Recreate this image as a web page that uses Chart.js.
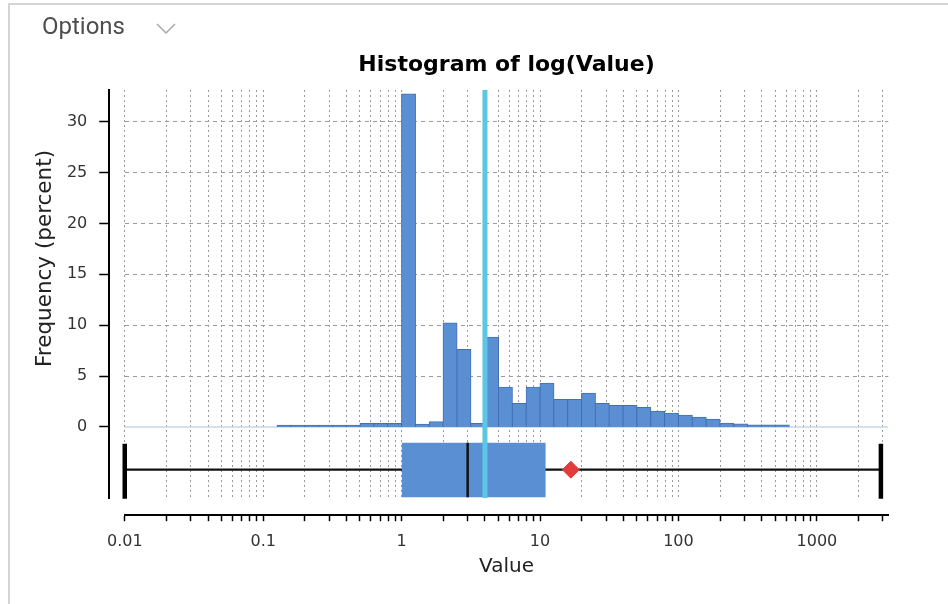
<!DOCTYPE html>
<html>
<head>
<meta charset="utf-8">
<title>Histogram of log(Value)</title>
<script src="https://cdn.jsdelivr.net/npm/chart.js@4.4.1/dist/chart.umd.min.js"></script>
<style>
    body { margin: 0; background: #fff; overflow: hidden; }
    .painel { position: absolute; left: 8px; top: 3px; width: 960px; height: 640px; border: 2px solid #d4d4d4; box-sizing: border-box; }
    .opcoes { position: absolute; left: 42px; top: 12px; font: 24px Roboto, sans-serif; color: #4e4e4e; line-height: 28px; }
    .seta { position: absolute; left: 156px; top: 22px; }
    canvas { position: absolute; left: 0; top: 0; }
</style>
</head>
<body>
<div class="painel"></div>
<canvas id="graficoHistograma" width="948" height="604"></canvas>
<div class="opcoes">Options</div>
<svg class="seta" width="20" height="14"><polyline points="1,2 10,11 19,2" fill="none" stroke="#a8a8a8" stroke-width="1.5"/></svg>

<script>
// classes do histograma: limite inferior em log10, largura 0.1
const BIN_WIDTH = 0.1;
const binLog = [-0.9, -0.8, -0.7, -0.6, -0.5, -0.4, -0.3, -0.2, -0.1,
    0.0, 0.1, 0.2, 0.3, 0.4, 0.5, 0.6, 0.7, 0.8, 0.9,
    1.0, 1.1, 1.2, 1.3, 1.4, 1.5, 1.6, 1.7, 1.8, 1.9,
    2.0, 2.1, 2.2, 2.3, 2.4, 2.5, 2.6, 2.7];
const binPercent = [0.16, 0.16, 0.16, 0.16, 0.16, 0.16, 0.33, 0.33, 0.33,
    32.7, 0.26, 0.52, 10.2, 7.6, 0.33, 8.8, 3.9, 2.3, 3.9,
    4.3, 2.7, 2.7, 3.3, 2.3, 2.1, 2.1, 1.9, 1.55, 1.35,
    1.15, 0.95, 0.75, 0.36, 0.3, 0.2, 0.2, 0.2];

// resumo do boxplot
const whiskerRange = [0.01, 2900];
const quartiles = [1, 3, 11];
const meanValue = 16.7;
const referenceValue = 4;

// eixos
const xDecades = [0.01, 0.1, 1, 10, 100, 1000];
const xTickLabels = ['0.01', '0.1', '1', '10', '100', '1000'];
const yTicks = [0, 5, 10, 15, 20, 25, 30];

const X_MIN = 0.01, X_MAX = 3280;
const Y_MIN = -7, Y_MAX = 33.1;
const BOX_TOP = -1.55, BOX_BOTTOM = -6.9, WHISKER_Y = -4.2;
const CAP_TOP = -1.65, CAP_BOTTOM = -7.05;

const AZUL = '#5b8fd4';

// marcas menores 1..9 de cada década até o fim do eixo
function marcasLog() {
    const valores = [];
    xDecades.forEach(d => {
        for (let k = 1; k <= 9; k++) {
            const v = +(d * k).toPrecision(6);
            if (v <= X_MAX) valores.push(v);
        }
    });
    return valores;
}

// título do eixo y centrado só na parte do histograma (0 até o topo)
const tituloY = {
    id: 'tituloY',
    afterDraw(chart) {
        const { ctx, scales: { y } } = chart;
        const meio = (y.getPixelForValue(0) + y.top) / 2;
        ctx.save();
        ctx.translate(45.5, meio);
        ctx.rotate(-Math.PI / 2);
        ctx.font = '21.5px "DejaVu Sans"';
        ctx.fillStyle = '#222';
        ctx.textAlign = 'center';
        ctx.textBaseline = 'middle';
        ctx.fillText('Frequency (percent)', 0, 0);
        ctx.restore();
    }
};

function linha(pontos, cor, largura, ordem, extra) {
    return Object.assign({
        type: 'line',
        data: pontos,
        borderColor: cor,
        borderWidth: largura,
        pointRadius: 0,
        borderCapStyle: 'butt',
        order: ordem
    }, extra || {});
}

function gerarGrafico() {
    Chart.defaults.font.family = '"DejaVu Sans"';
    const marcas = marcasLog();
    const barras = binLog.map((b, i) => ({ x: Math.pow(10, b + BIN_WIDTH / 2), y: binPercent[i] }));

    new Chart(document.getElementById('graficoHistograma'), {
        type: 'line',
        data: {
            datasets: [
                linha([{ x: X_MIN, y: 0 }, { x: X_MAX, y: 0 }], '#c9d5e8', 1.5, 9),
                {
                    type: 'bar',
                    label: 'Frequency',
                    xAxisID: 'xb',
                    data: barras,
                    backgroundColor: AZUL,
                    borderColor: '#4470b3',
                    borderWidth: 1,
                    inflateAmount: 0.5,
                    barPercentage: 1,
                    categoryPercentage: 1,
                    order: 8
                },
                linha([{ x: whiskerRange[0], y: WHISKER_Y }, { x: whiskerRange[1], y: WHISKER_Y }], '#111', 2.2, 7, { clip: false }),
                linha([{ x: quartiles[0], y: BOX_TOP }, { x: quartiles[2], y: BOX_TOP }], AZUL, 0, 6,
                    { backgroundColor: AZUL, fill: { value: BOX_BOTTOM } }),
                linha([{ x: quartiles[1], y: BOX_TOP }, { x: quartiles[1], y: BOX_BOTTOM }], '#111', 2.5, 5),
                linha([{ x: whiskerRange[0], y: CAP_TOP }, { x: whiskerRange[0], y: CAP_BOTTOM }], '#000', 4.5, 5, { clip: false }),
                linha([{ x: whiskerRange[1], y: CAP_TOP }, { x: whiskerRange[1], y: CAP_BOTTOM }], '#000', 4.5, 5, { clip: false }),
                linha([{ x: referenceValue, y: Y_MIN }, { x: referenceValue, y: Y_MAX }], '#5cc6e4', 5, 2),
                {
                    type: 'line',
                    data: [{ x: meanValue, y: WHISKER_Y }],
                    showLine: false,
                    pointStyle: 'rectRot',
                    pointRadius: 8.5,
                    pointBackgroundColor: '#e23b3b',
                    pointBorderColor: '#e23b3b',
                    pointBorderWidth: 1,
                    clip: false,
                    order: 1
                }
            ]
        },
        options: {
            responsive: false,
            animation: false,
            events: [],
            devicePixelRatio: 1,
            layout: { padding: { left: 54.9, right: 59.7, top: 40, bottom: 24.8 } },
            plugins: {
                legend: { display: false },
                tooltip: { enabled: false },
                title: {
                    display: true,
                    text: 'Histogram of log(Value)',
                    color: '#000',
                    font: { size: 22, weight: 'bold' },
                    padding: { top: 11.8, bottom: 11.8 },
                    fullSize: false
                }
            },
            scales: {
                xb: {
                    type: 'logarithmic',
                    display: false,
                    min: X_MIN, max: X_MAX,
                    bounds: 'data',
                    offset: false,
                    afterBuildTicks: s => { s.ticks = [{ value: X_MIN }, { value: X_MAX }]; }
                },
                xg: {
                    type: 'logarithmic',
                    position: 'bottom',
                    weight: 0,
                    z: 1,
                    min: X_MIN, max: X_MAX,
                    bounds: 'data',
                    offset: false,
                    afterBuildTicks: s => { s.ticks = marcas.map(v => ({ value: v })); },
                    ticks: { display: false },
                    grid: {
                        offset: false,
                        color: '#9a9a9a',
                        lineWidth: 1,
                        drawTicks: true,
                        tickLength: 17,
                        tickColor: 'rgba(0,0,0,0)'
                    },
                    border: { display: false, dash: [2, 3] }
                },
                x: {
                    type: 'logarithmic',
                    position: 'bottom',
                    weight: 1,
                    min: X_MIN, max: X_MAX,
                    bounds: 'data',
                    offset: false,
                    afterBuildTicks: s => { s.ticks = marcas.map(v => ({ value: v })); },
                    ticks: {
                        autoSkip: false,
                        maxRotation: 0,
                        padding: 11,
                        color: '#333',
                        font: { size: 16 },
                        callback: v => {
                            const i = xDecades.indexOf(v);
                            return i >= 0 ? xTickLabels[i] : '';
                        }
                    },
                    grid: {
                        offset: false,
                        drawOnChartArea: false,
                        tickLength: 6,
                        tickColor: '#000',
                        tickWidth: 1.5
                    },
                    border: { display: true, color: '#000', width: 2 },
                    title: {
                        display: true,
                        text: 'Value',
                        color: '#222',
                        font: { size: 20 },
                        padding: { top: -7.2, bottom: 0 }
                    }
                },
                yg: {
                    type: 'linear',
                    position: 'left',
                    weight: 0,
                    min: Y_MIN, max: Y_MAX,
                    afterBuildTicks: s => { s.ticks = yTicks.filter(v => v > 0).map(v => ({ value: v })); },
                    ticks: { display: false },
                    grid: {
                        color: '#9a9a9a',
                        lineWidth: 1,
                        drawTicks: true,
                        tickLength: 15.5,
                        tickColor: 'rgba(0,0,0,0)'
                    },
                    border: { display: false, dash: [4, 4] }
                },
                y: {
                    type: 'linear',
                    position: 'left',
                    weight: 1,
                    min: Y_MIN, max: Y_MAX,
                    afterBuildTicks: s => { s.ticks = yTicks.map(v => ({ value: v })); },
                    ticks: { padding: 12, color: '#333', font: { size: 16 } },
                    grid: {
                        drawOnChartArea: false,
                        tickLength: 10,
                        tickColor: '#000',
                        tickWidth: 1.5
                    },
                    border: { display: true, color: '#000', width: 2 }
                }
            }
        },
        plugins: [tituloY]
    });
}

document.addEventListener('DOMContentLoaded', gerarGrafico);
</script>
</body>
</html>
